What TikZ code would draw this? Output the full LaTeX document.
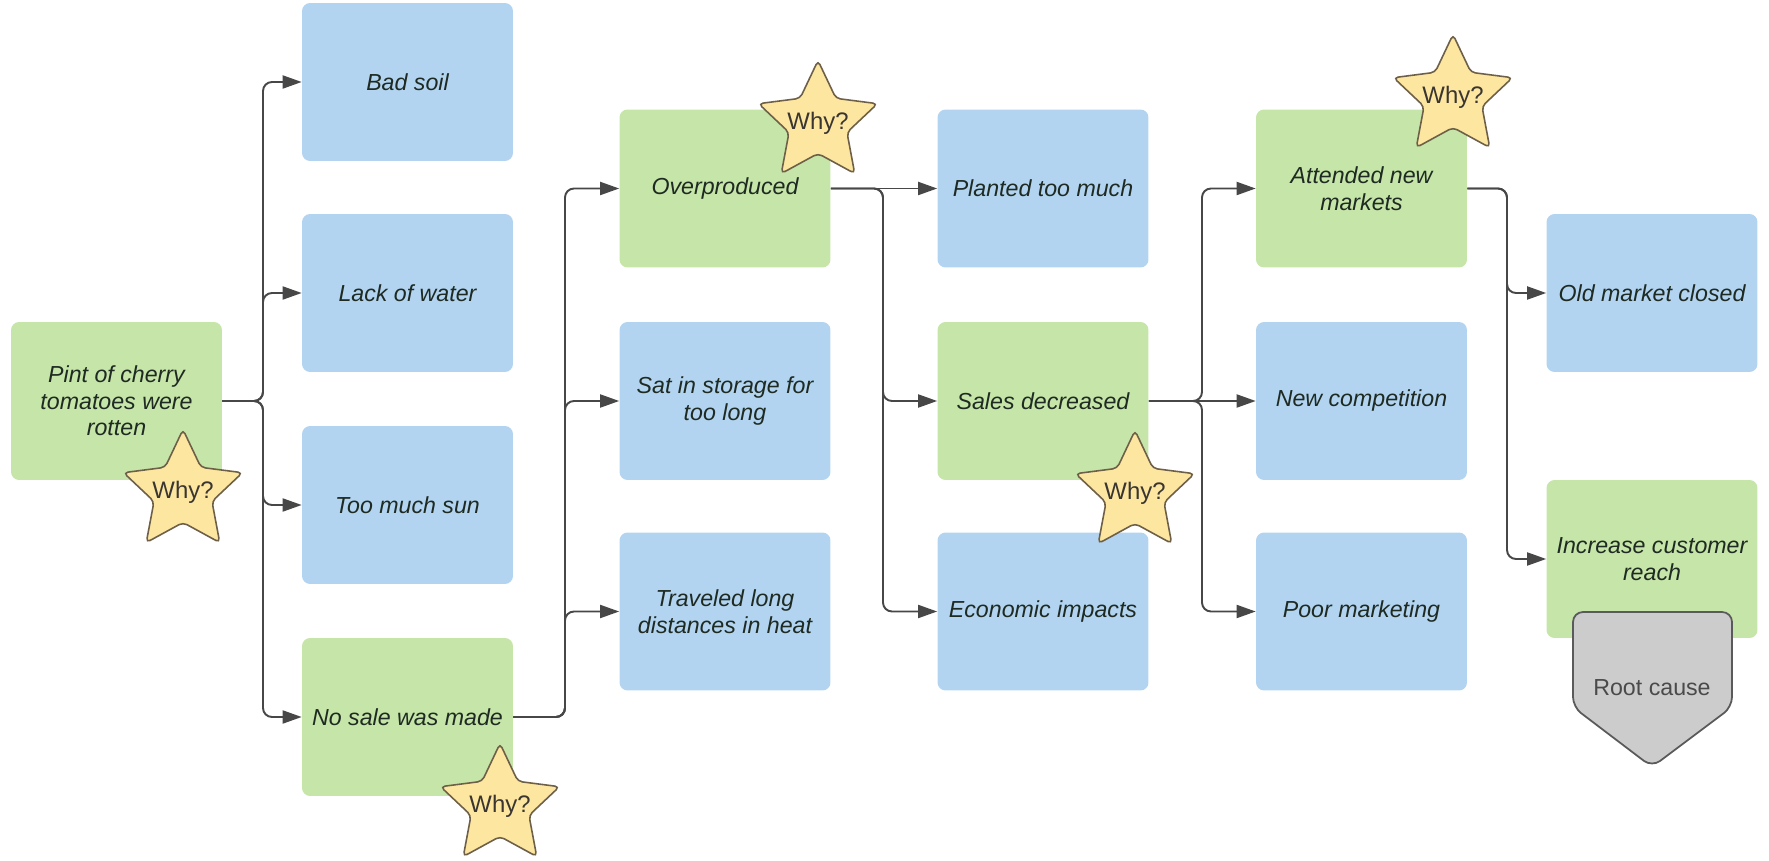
\documentclass[tikz,border=0pt]{standalone}
\usepackage{fontspec}
\setmainfont{Liberation Sans}
\usetikzlibrary{shapes.geometric,arrows.meta}
\definecolor{boxgreen}{HTML}{C6E5A8}
\definecolor{boxblue}{HTML}{B2D4F0}
\definecolor{boxtext}{HTML}{1E2A22}
\definecolor{linkgray}{HTML}{474747}
\definecolor{starfill}{HTML}{FCE6A0}
\definecolor{starline}{HTML}{6E6048}
\definecolor{startext}{HTML}{3A3530}
\definecolor{rootfill}{HTML}{CCCCCC}
\definecolor{rootline}{HTML}{5A5A5A}
\definecolor{roottext}{HTML}{4A4A4A}
\begin{document}
\begin{tikzpicture}[x=0.02cm,y=-0.02cm,
  box/.style={rounded corners=0.16cm, minimum width=4.22cm, minimum height=3.16cm,
    inner sep=0pt, align=center, text=boxtext,
    font=\fontsize{13.2}{15.2}\selectfont\itshape},
  cause/.style={box, fill=boxgreen},
  item/.style={box, fill=boxblue},
  link/.style={draw=linkgray, line width=1.1pt, rounded corners=0.18cm,
    -{Triangle[length=0.38cm,width=0.26cm]}},
  whystar/.style={star, star points=5, star point ratio=2.05, minimum size=2.5cm,
    inner sep=0pt, fill=starfill, draw=starline, line width=0.9pt,
    rounded corners=2.5pt,
    label={[text=startext, font=\fontsize{13.6}{15}\selectfont]center:Why?}},
  rootbox/.style={fill=rootfill, draw=rootline, line width=1pt, rounded corners=0.2cm}
]
\useasboundingbox (0,0) rectangle (1769,861);

% problem statement
\node[cause] (root) at (116.5,401) {Pint of cherry\\tomatoes were\\rotten};

% first level
\node[item]  (soil)  at (407.5,82)  {Bad soil};
\node[item]  (water) at (407.5,293) {Lack of water};
\node[item]  (sun)   at (407.5,505) {Too much sun};
\node[cause] (nosale) at (407.5,717) {No sale was made};

% second level
\node[cause] (over)    at (725,188.5) {Overproduced};
\node[item]  (storage) at (725,401)   {Sat in storage for\\too long};
\node[item]  (travel)  at (725,611.5) {Traveled long\\distances in heat};

% third level
\node[item]  (planted) at (1043,188.5) {Planted too much};
\node[cause] (sales)   at (1043,401)   {Sales decreased};
\node[item]  (economy) at (1043,611.5) {Economic impacts};

% fourth level
\node[cause] (markets) at (1361.5,188.5) {Attended new\\markets};
\node[item]  (compet)  at (1361.5,401)   {New competition};
\node[item]  (poor)    at (1361.5,611.5) {Poor marketing};

% fifth level
\node[item]  (closed) at (1652,293) {Old market closed};
\node[cause] (reach)  at (1652,559) {Increase customer\\reach};

% connectors
\foreach \t in {soil,water,sun,nosale}
  \draw[link] (root.east) -- (263,401) |- (\t.west);
\foreach \t in {over,storage,travel}
  \draw[link] (nosale.east) -- (565,717) |- (\t.west);
\draw[link] (over.east) -- (planted.west);
\foreach \t in {sales,economy}
  \draw[link] (over.east) -- (883,188.5) |- (\t.west);
\draw[link] (sales.east) -- (compet.west);
\foreach \t in {markets,poor}
  \draw[link] (sales.east) -- (1202,401) |- (\t.west);
\foreach \t in {closed,reach}
  \draw[link] (markets.east) -- (1507,188.5) |- (\t.west);

% "Why?" stars
\node[whystar] (why1) at (183,492)  {};
\node[whystar] (why2) at (500,806)  {};
\node[whystar] (why3) at (818,123)  {};
\node[whystar] (why4) at (1135,493) {};
\node[whystar] (why5) at (1453,97)  {};

% root cause marker
\draw[rootbox] (1652,612) -- (1732,612) -- (1732,707) -- (1652,767)
  -- (1573,707) -- (1573,612) -- cycle;
\node[text=roottext, font=\fontsize{13.2}{15}\selectfont] (rootcause) at (1652,688) {Root cause};
\end{tikzpicture}
\end{document}
